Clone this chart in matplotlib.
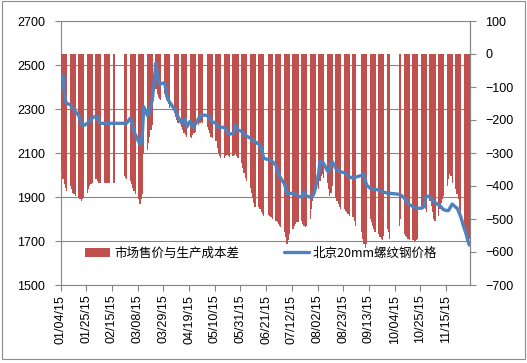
import matplotlib
matplotlib.use('Agg')
import matplotlib.pyplot as plt
import matplotlib.dates as mdates
from matplotlib.patches import Rectangle
from matplotlib.font_manager import FontProperties
import pandas as pd

# ---------------- data (one slot per weekday, Mon..Fri; None = holiday) ----
first_monday = '2015-01-05'
n_weeks = 48

price = [
    2440, 2455, 2380, 2340, 2325,
    2320, 2310, 2305, 2300, 2290,
    2270, 2250, 2235, 2225, 2225,
    2235, 2240, 2245, 2250, 2260,
    2268, 2265, 2250, 2238, 2235,
    2235, 2235, 2235, 2235, 2235,
    2235, 2235, None, None, None,
    None, None, 2235, 2235, 2235,
    2258, 2245, 2220, 2200, 2185,
    2150, 2140, 2145, 2200, 2310,
    2270, 2275, 2300, 2320, 2340,
    2510, 2460, 2420, 2409, 2415,
    2420, 2390, 2360, 2340, 2333,
    None, 2300, 2290, 2275, 2265,
    2235, 2245, 2250, 2253, 2217,
    2245, 2230, 2220, 2217, 2230,
    2258, 2265, 2273, 2273, None,
    2270, 2268, 2258, 2245, 2242,
    2235, 2225, 2217, 2217, 2217,
    2217, 2205, 2195, 2188, 2186,
    2189, 2200, 2227, 2215, 2205,
    2198, 2192, 2186, 2180, 2177,
    2168, 2163, 2158, 2155, 2151,
    2140, 2132, 2126, 2100, 2076,
    None, 2070, 2068, 2065, 2061,
    2045, 2025, 2008, 1995, 1985,
    1960, 1940, 1914, 1914, 1916,
    1917, 1915, 1912, 1909, 1905,
    1899, 1912, 1924, 1915, 1905,
    1899, 1900, 1905, 1915, 1932,
    2010, 2061, 2060, 2057, 2053,
    2020, 2015, 2035, 2050, 2061,
    2030, 2025, 2020, 2017, 2015,
    2010, 2008, 2002, 1996, 1992,
    1985, 1987, 1990, None, None,
    1998, 2002, 2005, 1980, 1955,
    1940, 1938, 1937, 1936, 1935,
    1932, 1930, 1928, 1925, 1922,
    1918, 1917, 1917, None, None,
    None, None, None, 1912, 1909,
    1895, 1886, 1880, 1872, 1865,
    1857, 1853, 1851, 1850, 1849,
    1849, 1852, 1859, 1885, 1905,
    1901, 1895, 1885, 1879, 1875,
    1864, 1860, 1855, 1848, 1842,
    1838, 1838, 1848, 1858, 1868,
    1853, 1850, 1838, 1825, 1811,
    1755, 1740, 1720, 1700, 1682,
]

diff = [
    -350, -380, -395, -405, -415,
    -400, -410, -420, -425, -430,
    -435, -440, -445, -440, -435,
    -420, -410, -400, -395, -390,
    -380, -385, -390, -392, -392,
    -392, -392, -392, -392, -392,
    -392, -392, None, None, None,
    None, None, -370, -375, -380,
    -385, -395, -405, -415, -425,
    -440, -455, -440, -425, -300,
    -290, -270, -250, -230, -215,
    -105, -120, -130, -135, -140,
    -120, -130, -140, -150, -165,
    None, -180, -190, -200, -210,
    -220, -230, -240, -245, -250,
    -250, -255, -245, -240, -235,
    -215, -210, -205, -210, None,
    -220, -230, -240, -250, -255,
    -265, -285, -300, -310, -316,
    -316, -310, -305, -310, -312,
    -310, -305, -300, -310, -315,
    -330, -345, -360, -375, -385,
    -405, -420, -435, -450, -465,
    -465, -470, -478, -485, -490,
    None, -488, -490, -495, -500,
    -505, -510, -515, -520, -525,
    -540, -555, -575, -565, -545,
    -530, -520, -515, -510, -510,
    -505, -515, -520, -525, -520,
    -500, -470, -445, -430, -420,
    -410, -385, -370, -365, -375,
    -390, -410, -430, -420, -400,
    -435, -445, -455, -465, -470,
    -470, -475, -480, -485, -490,
    -495, -505, -520, None, None,
    -540, -560, -575, -587, -575,
    -500, -510, -520, -530, -540,
    -545, -555, -560, -565, -550,
    -530, -540, -560, None, None,
    None, None, None, -520, -500,
    -545, -550, -555, -560, -565,
    -565, -570, -568, -565, -560,
    -470, -460, -455, -470, -480,
    -445, -460, -480, -500, -505,
    -490, -470, -450, -440, -430,
    -400, -380, -365, -370, -390,
    -410, -425, -440, -470, -500,
    -525, -540, -560, -575, -560,
]

series_names = ['市场售价与生产成本差', '北京20mm螺纹钢价格']
tick_start = '2015-01-04'
tick_step_days = 21
n_ticks = 16
left_ticks = [1500, 1700, 1900, 2100, 2300, 2500, 2700]
right_ticks = [-700, -600, -500, -400, -300, -200, -100, 0, 100]

# ---------------- build dated series ----------------
slots = [pd.Timestamp(first_monday) + pd.Timedelta(days=7 * w + d)
         for w in range(n_weeks) for d in range(5)]
p_dates = [s for s, v in zip(slots, price) if v is not None]
p_vals = [v for v in price if v is not None]
d_dates = [s for s, v in zip(slots, diff) if v is not None]
d_vals = [v for v in diff if v is not None]

# ---------------- figure ----------------
W, H = 527, 363
fig = plt.figure(figsize=(W / 100, H / 100), dpi=100)
fig.patch.set_facecolor('white')

L, R, T, B = 60.5, 470, 21, 285
ax = fig.add_axes([L / W, 1 - B / H, (R - L) / W, (B - T) / H])
ax2 = ax.twinx()
ax3 = ax.twinx()

grey = '#868686'
tick_font = 'Liberation Sans'
fs = 9

# primary axis (price scale) with gridlines
ax.set_ylim(1500, 2700)
ax.set_yticks(left_ticks)
ax.yaxis.grid(True, color=grey, lw=0.8)
ax.set_axisbelow(True)
for s in ax.spines.values():
    s.set_color(grey)
    s.set_linewidth(0.8)

# bars on secondary axis
ax2.bar(d_dates, d_vals, width=1.0, color='#C0504D', linewidth=0,
        label=series_names[0])
ax2.set_ylim(-700, 100)
ax2.set_yticks(right_ticks)
for s in ax2.spines.values():
    s.set_visible(False)
ax2.spines['right'].set_visible(True)
ax2.spines['right'].set_color(grey)
ax2.spines['right'].set_linewidth(0.8)

# line on top
ln, = ax3.plot(p_dates, p_vals, color='#4F81BD', lw=2.4,
               solid_joinstyle='round', solid_capstyle='round',
               label=series_names[1])
ax3.set_ylim(1500, 2700)
ax3.axis('off')

# x axis
t0 = pd.Timestamp(tick_start)
xticks = [t0 + pd.Timedelta(days=tick_step_days * k) for k in range(n_ticks)]
ax.set_xlim(mdates.date2num(t0), mdates.date2num(t0) + 334.6)
ax.set_xticks(xticks)
ax.xaxis.set_major_formatter(mdates.DateFormatter('%m/%d/%y'))
for lab in ax.get_xticklabels():
    lab.set_rotation(90)

ax.tick_params(axis='x', direction='out', length=4, width=0.8, color=grey,
               labelsize=fs, pad=3, labelcolor='black')
ax.tick_params(axis='y', direction='out', length=4, width=0.8, color=grey,
               labelsize=fs, pad=7, labelcolor='black')
ax2.tick_params(axis='y', direction='out', length=4, width=0.8, color=grey,
                labelsize=fs, pad=7, labelcolor='black')
for lab in ax.get_xticklabels() + ax.get_yticklabels() + ax2.get_yticklabels():
    lab.set_fontfamily(tick_font)

# legend
bars_handle = ax2.containers[0]
leg = ax3.legend([bars_handle, ln], series_names, loc='center',
                 bbox_to_anchor=(0.49, 0.121), ncol=2, frameon=False,
                 prop=FontProperties(family=['Noto Sans CJK SC', 'DejaVu Sans'], size=9),
                 handlelength=2.0, handletextpad=0.3, columnspacing=3.6,
                 borderaxespad=0)

# outer chart border
fig.add_artist(Rectangle((2 / W, 1 - 359 / H), (525 - 2) / W, (359 - 1) / H,
                         transform=fig.transFigure, fill=False,
                         edgecolor='#8c8c8c', lw=0.8))

fig.savefig('out.png', dpi=100)
